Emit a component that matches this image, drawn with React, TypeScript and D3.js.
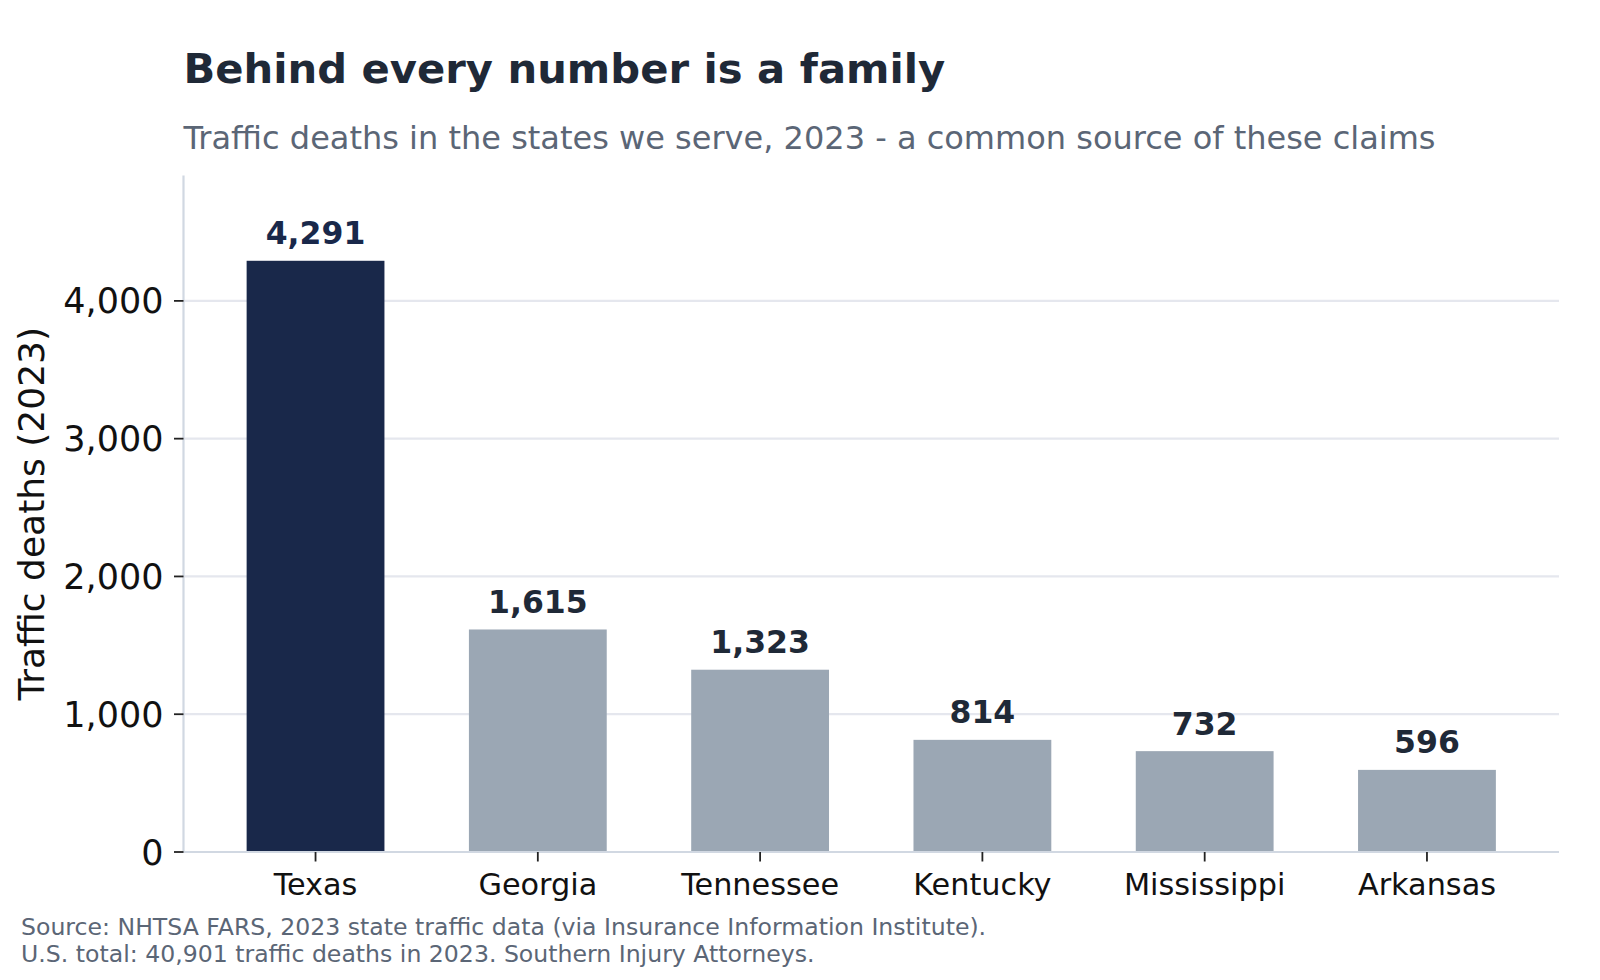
import * as d3 from "d3";

const states = ["Texas", "Georgia", "Tennessee", "Kentucky", "Mississippi", "Arkansas"];
const deaths = [4291, 1615, 1323, 814, 732, 596];
const yTicks = [0, 1000, 2000, 3000, 4000];
const highlight = "Texas";

const title = "Behind every number is a family";
const subtitle = "Traffic deaths in the states we serve, 2023 - a common source of these claims";
const yLabel = "Traffic deaths (2023)";
const sourceLines = [
  "Source: NHTSA FARS, 2023 state traffic data (via Insurance Information Institute).",
  "U.S. total: 40,901 traffic deaths in 2023. Southern Injury Attorneys.",
];

export default function App() {
  const width = 1600;
  const height = 980;
  const marginLeft = 183.5;
  const marginRight = 41;
  const plotTop = 175.5;
  const plotBottom = 852;
  const font = "DejaVu Sans, sans-serif";

  const x = d3
    .scalePoint<string>()
    .domain(states)
    .range([marginLeft, width - marginRight])
    .padding(0.594);
  const barWidth = x.step() * 0.62;

  const y = d3.scaleLinear().domain([0, 4910]).range([plotBottom, plotTop]);
  const fmt = d3.format(",");

  const rows = states.map((s, i) => ({ state: s, value: deaths[i] }));

  return (
    <svg
      width={width}
      height={height}
      style={{ position: "absolute", left: 0, top: 0, background: "#fff" }}
      fontFamily={font}
    >
      <text x={marginLeft} y={83} fontSize={41.7} fontWeight="bold" fill="#1f2937">
        {title}
      </text>
      <text x={marginLeft} y={149} fontSize={32} fill="#5b6676">
        {subtitle}
      </text>

      {/* grid */}
      <g>
        {yTicks
          .filter((t) => t > 0)
          .map((t) => (
            <line
              key={t}
              x1={marginLeft}
              x2={width - marginRight}
              y1={y(t)}
              y2={y(t)}
              stroke="#e5e7ee"
              strokeWidth={2.2}
            />
          ))}
      </g>

      {/* bars */}
      <g>
        {rows.map((d) => (
          <rect
            key={d.state}
            x={(x(d.state) as number) - barWidth / 2}
            y={y(d.value)}
            width={barWidth}
            height={y(0) - y(d.value)}
            fill={d.state === highlight ? "#19284a" : "#9ba7b4"}
          />
        ))}
      </g>

      {/* value labels */}
      <g textAnchor="middle" fontSize={31.5} fontWeight="bold">
        {rows.map((d) => (
          <text
            key={d.state}
            x={x(d.state) as number}
            y={y(d.value) - 16.5}
            fill={d.state === highlight ? "#19284a" : "#1f2937"}
          >
            {fmt(d.value)}
          </text>
        ))}
      </g>

      {/* spines */}
      <line x1={marginLeft} x2={marginLeft} y1={plotTop} y2={plotBottom + 1} stroke="#d1d8e2" strokeWidth={2.2} />
      <line x1={marginLeft} x2={width - marginRight} y1={plotBottom} y2={plotBottom} stroke="#d1d8e2" strokeWidth={2.2} />

      {/* y axis */}
      <g fontSize={35} textAnchor="end" fill="#111">
        {yTicks.map((t) => (
          <g key={t}>
            <line x1={marginLeft - 9.5} x2={marginLeft} y1={y(t)} y2={y(t)} stroke="#222" strokeWidth={1.8} />
            <text x={marginLeft - 20} y={y(t)} dy="0.36em">
              {fmt(t)}
            </text>
          </g>
        ))}
      </g>
      <text
        transform={`translate(${44},${(plotTop + plotBottom) / 2}) rotate(-90)`}
        textAnchor="middle"
        fontSize={36}
        fill="#111"
      >
        {yLabel}
      </text>

      {/* x axis */}
      <g fontSize={30.3} textAnchor="middle" fill="#111">
        {states.map((s) => (
          <g key={s}>
            <line x1={x(s)} x2={x(s)} y1={plotBottom} y2={plotBottom + 9.5} stroke="#222" strokeWidth={1.8} />
            <text x={x(s)} y={895}>
              {s}
            </text>
          </g>
        ))}
      </g>

      {/* footnote */}
      <g fontSize={23.6} fill="#5b6676">
        {sourceLines.map((line, i) => (
          <text key={i} x={21} y={935 + i * 27}>
            {line}
          </text>
        ))}
      </g>
    </svg>
  );
}
